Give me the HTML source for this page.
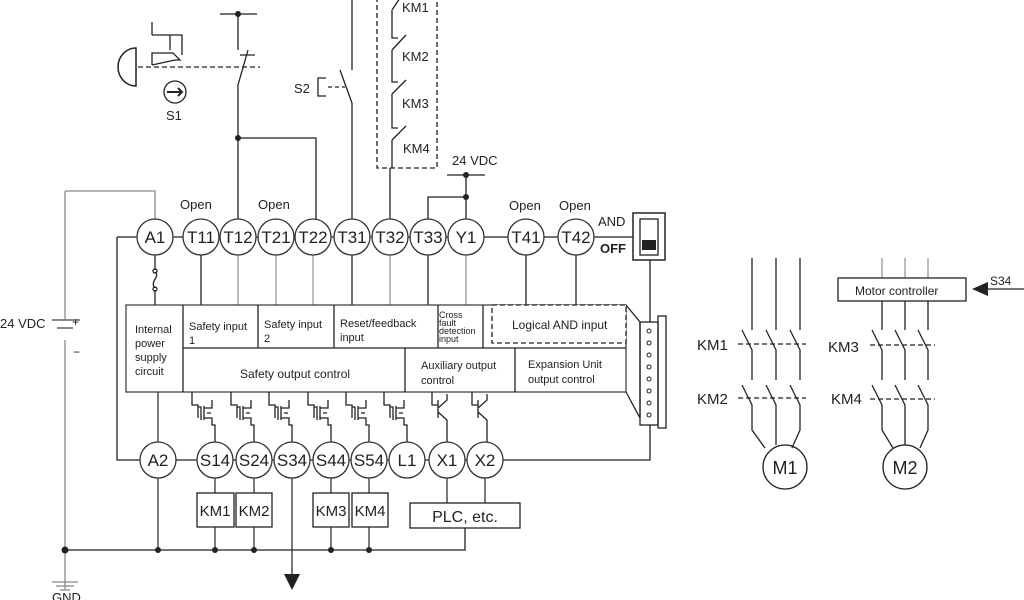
<!DOCTYPE html>
<html><head><style>html,body{margin:0;padding:0;background:#fff}svg{display:block}text{font-family:"Liberation Sans",sans-serif;fill:#222}</style></head><body>
<svg width="1024" height="600" viewBox="0 0 1024 600" xmlns="http://www.w3.org/2000/svg">
<g stroke="#222" stroke-width="1.3" fill="none">
<path d="M65 191H155V219" stroke="#888"/>
<path d="M65 191V320M65 340V590" stroke="#888"/>
<path d="M52 320H80M57 328H73" stroke="#888" stroke-width="2"/>
<path d="M52 582H78M56 586H74M60 590H70" stroke="#888"/>
<path d="M117 237H137M117 237V460H140"/>
<path d="M65 550H465V528" />
<path d="M173 237H183M219 237H220M256 237H258M294 237H295M331 237H334M370 237H372M408 237H410M446 237H448M484 237H508M544 237H558M594 237H633"/>
<path d="M176 460H197M233 460H236M272 460H274M310 460H313M349 460H351M387 460H389M425 460H429M465 460H467M503 460H650V425"/>
<path d="M155 255V270M155 290V305M201 255V305M352 255V305M428 255V305M526 255V305M576 255V305"/>
<path d="M238 255V305M276 255V305M313 255V305M390 255V305M466 255V305" stroke="#999"/>
<path d="M155 272c6 4 -6 10 0 16" />
<circle cx="155" cy="271" r="2"/><circle cx="155" cy="289" r="2"/>
<rect x="126" y="305" width="500" height="87" stroke="#444"/>
<path d="M183 305V392M183 348H626M258 305V348M334 305V348M438 305V348M483 305V348M405 348V392M515 348V392"/>
<rect x="492" y="305" width="134" height="38" stroke-dasharray="5,3" fill="#fff"/>
<path d="M626 305L640 322V418L626 392"/>
<rect x="640" y="322" width="18" height="103"/>
<rect x="658" y="316" width="8" height="112"/>
<rect x="633" y="213" width="32" height="47" stroke-width="1.5"/>
<rect x="640" y="219" width="18" height="36"/>
<path d="M650 260V322"/>
<path d="M158 392V442M158 478V550M215 478V493M254 478V493M331 478V493M369 478V493M215 527V550M254 527V550M331 527V550M369 527V550M292 478V578M447 478V503M485 478V503" stroke="#333"/>
<g id="fet"><path d="M192 392V405H198V418M198 407H201V420M204 406V420M204 408H212V400M204 418H212V425H215V442M207 413H211"/></g>
<use href="#fet" x="39"/><use href="#fet" x="77"/><use href="#fet" x="116"/><use href="#fet" x="154"/><use href="#fet" x="192"/>
<path d="M432 392V405H438M438 400V418M438 408L447 400V394M438 412L447 420V442M472 392V405H478M478 400V418M478 408L487 400V394M478 412L487 420V442"/>
<rect x="197" y="493" width="37" height="34"/><rect x="236" y="493" width="36" height="34"/>
<rect x="313" y="493" width="36" height="34"/><rect x="352" y="493" width="36" height="34"/>
<rect x="410" y="503" width="110" height="25"/>
<path d="M238 219V138H316V219M238 138V85L248 50M238 50V14M220 14H257M240 55H255"/>
<path d="M138 67H260" stroke-dasharray="5,3"/>
<path d="M136 48a18 19 0 0 0 0 38Z" stroke-width="1.5"/>
<path d="M152 65V53H173L180 60H175L152 65M152 22V35M152 35H182V55M170 35V50"/>
<circle cx="175" cy="92" r="11"/>
<path d="M167 92H182M178 88L182 92L178 96" stroke-width="2"/>
<path d="M352 219V103L340 70M352 70V0M326 78H318V96H326" />
<path d="M328 87H345" stroke-dasharray="4,3"/>
<path d="M390 219V168" />
<rect x="377" y="-2" width="60" height="170" stroke-dasharray="5,3"/>
<path d="M392 10L400 -2M392 10V38H398M392 50L406 35M392 50V82H398M392 94L406 80M392 94V128H398M392 140L406 126M392 140V168"/>
<path d="M428 219V197H466M466 219V175M447 175H485"/>
<path d="M752 258V330M776 258V330M800 258V330M742 330L752 350V380M766 330L776 350V380M790 330L800 350V380M742 385L752 405V430L765 448M766 385L776 405V445M790 385L800 405V430L792 448"/>
<path d="M738 344H806M738 398H806" stroke-dasharray="5,3"/>
<circle cx="785" cy="467" r="22"/>
<path d="M882 258V278M905 258V278M928 258V278" stroke="#999"/>
<rect x="838" y="278" width="128" height="23"/>
<path d="M882 301V330M905 301V330M928 301V330M872 330L882 350V380M895 330L905 350V380M918 330L928 350V380M872 385L882 405V430L893 448M895 385L905 405V445M918 385L928 405V430L920 448"/>
<path d="M870 345H935M870 399H935" stroke-dasharray="5,3"/>
<circle cx="905" cy="467" r="22"/>
<path d="M985 289H1024"/>
</g>
<g fill="#222">
<circle cx="238" cy="14" r="3"/><circle cx="238" cy="138" r="3"/><circle cx="466" cy="175" r="3"/><circle cx="466" cy="197" r="3"/>
<circle cx="65" cy="550" r="3.5"/><circle cx="158" cy="550" r="3"/><circle cx="215" cy="550" r="3"/><circle cx="254" cy="550" r="3"/><circle cx="331" cy="550" r="3"/><circle cx="369" cy="550" r="3"/>
<path d="M284 574H300L292 590Z"/><path d="M972 289L988 282V296Z"/>
<rect x="642" y="240" width="14" height="10"/>
</g>
<g fill="none" stroke="#222" stroke-width="1">
<circle cx="649" cy="331" r="2"/><circle cx="649" cy="343" r="2"/><circle cx="649" cy="355" r="2"/><circle cx="649" cy="367" r="2"/><circle cx="649" cy="379" r="2"/><circle cx="649" cy="391" r="2"/><circle cx="649" cy="403" r="2"/><circle cx="649" cy="415" r="2"/>
</g>
<g fill="#fff" stroke="#333" stroke-width="1.3">
<circle cx="155" cy="237" r="18"/><circle cx="201" cy="237" r="18"/><circle cx="238" cy="237" r="18"/><circle cx="276" cy="237" r="18"/><circle cx="313" cy="237" r="18"/><circle cx="352" cy="237" r="18"/><circle cx="390" cy="237" r="18"/><circle cx="428" cy="237" r="18"/><circle cx="466" cy="237" r="18"/><circle cx="526" cy="237" r="18"/><circle cx="576" cy="237" r="18"/>
<circle cx="158" cy="460" r="18"/><circle cx="215" cy="460" r="18"/><circle cx="254" cy="460" r="18"/><circle cx="292" cy="460" r="18"/><circle cx="331" cy="460" r="18"/><circle cx="369" cy="460" r="18"/><circle cx="407" cy="460" r="18"/><circle cx="447" cy="460" r="18"/><circle cx="485" cy="460" r="18"/>
</g>
<g font-size="17" text-anchor="middle">
<text x="155" y="243">A1</text><text x="201" y="243">T11</text><text x="238" y="243">T12</text><text x="276" y="243">T21</text><text x="313" y="243">T22</text><text x="352" y="243">T31</text><text x="390" y="243">T32</text><text x="428" y="243">T33</text><text x="466" y="243">Y1</text><text x="526" y="243">T41</text><text x="576" y="243">T42</text>
<text x="158" y="466">A2</text><text x="215" y="466">S14</text><text x="254" y="466">S24</text><text x="292" y="466">S34</text><text x="331" y="466">S44</text><text x="369" y="466">S54</text><text x="407" y="466">L1</text><text x="447" y="466">X1</text><text x="485" y="466">X2</text>
<text x="215" y="516" font-size="15">KM1</text><text x="254" y="516" font-size="15">KM2</text><text x="331" y="516" font-size="15">KM3</text><text x="370" y="516" font-size="15">KM4</text>
<text x="465" y="522" font-size="16">PLC, etc.</text>
<text x="785" y="474" font-size="18">M1</text><text x="905" y="474" font-size="18">M2</text>
</g>
<g font-size="13">
<text x="180" y="209">Open</text><text x="258" y="209">Open</text><text x="509" y="210">Open</text><text x="559" y="210">Open</text>
<text x="598" y="226">AND</text><text x="600" y="253" font-weight="bold">OFF</text>
<text x="452" y="165">24 VDC</text>
<text x="0" y="328">24 VDC</text><text x="72" y="326" font-size="12">+</text><text x="73" y="356" font-size="12">−</text>
<text x="52" y="602">GND</text>
<text x="402" y="12">KM1</text><text x="402" y="61">KM2</text><text x="402" y="108">KM3</text><text x="403" y="153">KM4</text>
<text x="294" y="93">S2</text><text x="166" y="120">S1</text>
<text x="697" y="350" font-size="15">KM1</text><text x="697" y="404" font-size="15">KM2</text><text x="828" y="352" font-size="15">KM3</text><text x="831" y="404" font-size="15">KM4</text>
<text x="990" y="285" font-size="12">S34</text>
<text x="855" y="295" font-size="12">Motor controller</text>
</g>
<g font-size="11">
<text x="135" y="333">Internal</text><text x="135" y="347">power</text><text x="135" y="361">supply</text><text x="135" y="375">circuit</text>
<text x="189" y="330">Safety input</text><text x="189" y="344">1</text>
<text x="264" y="328">Safety input</text><text x="264" y="342">2</text>
<text x="340" y="327">Reset/feedback</text><text x="340" y="341">input</text>
<text x="439" y="318" font-size="9">Cross</text><text x="439" y="326" font-size="9">fault</text><text x="439" y="334" font-size="9">detection</text><text x="439" y="342" font-size="9">input</text>
<text x="512" y="329" font-size="12">Logical AND input</text>
<text x="240" y="378" font-size="12">Safety output control</text>
<text x="421" y="369">Auxiliary output</text><text x="421" y="384">control</text>
<text x="528" y="368">Expansion Unit</text><text x="528" y="383">output control</text>
</g>
</svg>
</body></html>
